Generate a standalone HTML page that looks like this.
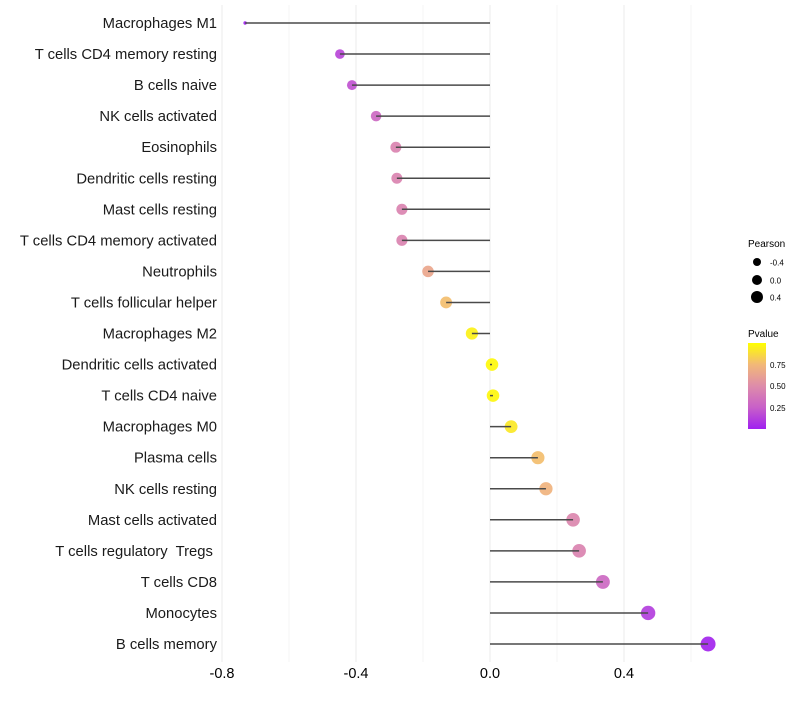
<!DOCTYPE html>
<html><head><meta charset="utf-8"><style>
body{margin:0;background:#fff;font-family:"Liberation Sans",sans-serif;}
#ylabels text{white-space:pre;}
</style></head><body>
<svg id="chart" width="800" height="700" xmlns="http://www.w3.org/2000/svg" font-family="Liberation Sans, sans-serif">
<g id="grid"></g>
<g id="points"></g>
<g id="stems"></g>
<g id="ylabels"></g>
<g id="xlabels"></g>
<g>
<text x="748" y="247" font-size="10">Pearson</text>
<circle cx="757" cy="262" r="4" fill="#000"/>
<text x="770" y="265.5" font-size="8">-0.4</text>
<circle cx="757" cy="280" r="5" fill="#000"/>
<text x="770" y="283.5" font-size="8">0.0</text>
<circle cx="757" cy="297" r="6" fill="#000"/>
<text x="770" y="300.5" font-size="8">0.4</text>
<text x="748" y="337" font-size="10">Pvalue</text>
<defs><linearGradient id="pg" x1="0" y1="1" x2="0" y2="0">
<stop offset="0" stop-color="#a020f0"/><stop offset="0.25" stop-color="#c860c8"/><stop offset="0.5" stop-color="#de8caa"/><stop offset="0.75" stop-color="#f2b878"/><stop offset="1" stop-color="#ffff00"/></linearGradient></defs>
<rect x="748" y="343" width="18" height="86" fill="url(#pg)"/>
<text x="770" y="368" font-size="8">0.75</text>
<text x="770" y="389" font-size="8">0.50</text>
<text x="770" y="411" font-size="8">0.25</text>
</g>
</svg>
<script>
const categories=["Macrophages M1","T cells CD4 memory resting","B cells naive","NK cells activated","Eosinophils","Dendritic cells resting","Mast cells resting","T cells CD4 memory activated","Neutrophils","T cells follicular helper","Macrophages M2","Dendritic cells activated","T cells CD4 naive","Macrophages M0","Plasma cells","NK cells resting","Mast cells activated","T cells regulatory  Tregs ","T cells CD8","Monocytes","B cells memory"];
const pearson=[-0.731,-0.448,-0.412,-0.340,-0.281,-0.278,-0.263,-0.263,-0.185,-0.131,-0.054,0.006,0.009,0.063,0.143,0.167,0.248,0.266,0.337,0.472,0.651];
const pvalues=[0.0,0.15,0.2,0.3,0.45,0.45,0.45,0.45,0.65,0.77,0.95,0.98,0.97,0.92,0.77,0.72,0.47,0.45,0.3,0.12,0.02];
const xTicks=[-0.8,-0.4,0.0,0.4];
const xMinor=[-0.6,-0.2,0.2,0.6];
const NS="http://www.w3.org/2000/svg";
function xs(v){return 490+v*335;}
function ys(i){return 23+i*31.05;}
const stops=[[0,[160,32,240]],[0.25,[200,96,200]],[0.5,[222,140,170]],[0.75,[242,184,120]],[1,[255,255,0]]];
function col(p){for(let k=0;k<stops.length-1;k++){const [p0,a]=stops[k],[p1,b]=stops[k+1];if(p<=p1){const t=(p-p0)/(p1-p0);return `rgb(${Math.round(a[0]+(b[0]-a[0])*t)},${Math.round(a[1]+(b[1]-a[1])*t)},${Math.round(a[2]+(b[2]-a[2])*t)})`;}}return 'rgb(255,255,0)';}
const mn=Math.min(...pearson),mx=Math.max(...pearson);
function rad(v){return Math.sqrt(3+53*Math.pow((v-mn)/(mx-mn),0.6));}
function mk(tag,attrs,parent){const e=document.createElementNS(NS,tag);for(const k in attrs)e.setAttribute(k,attrs[k]);parent.appendChild(e);return e;}
const grid=document.getElementById('grid'),pts=document.getElementById('points'),stems=document.getElementById('stems'),yl=document.getElementById('ylabels'),xl=document.getElementById('xlabels');
xMinor.forEach(v=>{const l=mk('line',{x1:xs(v),x2:xs(v),y1:5,y2:662,stroke:'#f4f4f4','stroke-width':1},grid);

});
xTicks.forEach(v=>{const l=mk('line',{x1:xs(v),x2:xs(v),y1:5,y2:662,stroke:'#ebebeb','stroke-width':1},grid);


const t=mk('text',{x:xs(v),y:678,'font-size':14.5,'text-anchor':'middle',fill:'#000'},xl);t.textContent=v.toFixed(1);

});
categories.forEach((c,i)=>{const y=ys(i);
const t=mk('text',{x:217,y:y+5,'font-size':14.8,'text-anchor':'end',fill:'#1a1a1a'},yl);t.textContent=c;


const ci=mk('circle',{cx:xs(pearson[i]),cy:y,r:rad(pearson[i]),fill:col(pvalues[i]),'fill-opacity':0.92},pts);


const l=mk('line',{x1:xs(0),x2:xs(pearson[i]),y1:y,y2:y,stroke:'#4a4a4a','stroke-width':1.5},stems);


});
</script>
</body></html>
